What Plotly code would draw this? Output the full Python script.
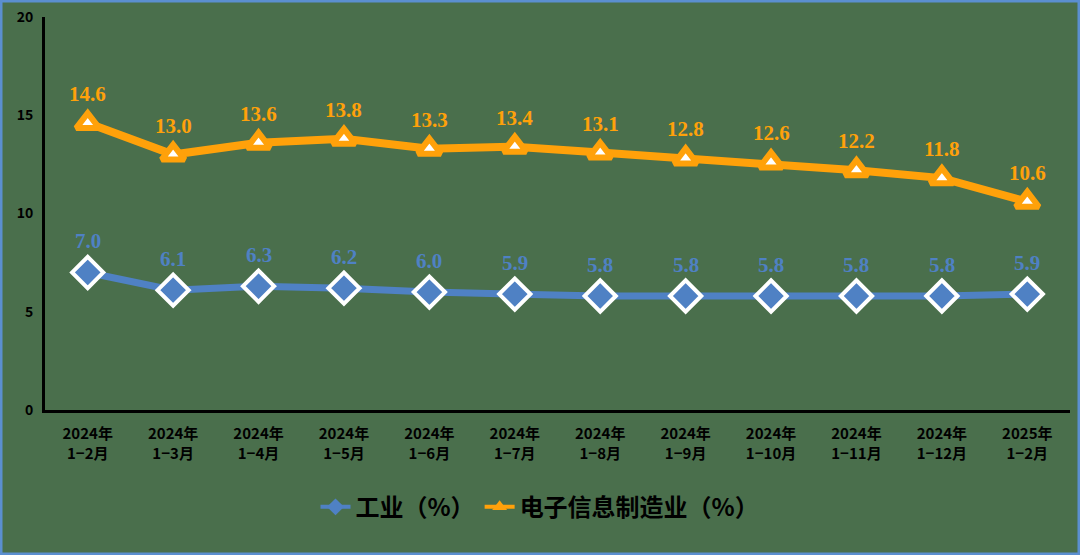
import plotly.graph_objects as go

categories = ["2024年<br>1−2月", "2024年<br>1−3月", "2024年<br>1−4月", "2024年<br>1−5月",
              "2024年<br>1−6月", "2024年<br>1−7月", "2024年<br>1−8月", "2024年<br>1−9月",
              "2024年<br>1−10月", "2024年<br>1−11月", "2024年<br>1−12月", "2025年<br>1−2月"]
industry = [7.0, 6.1, 6.3, 6.2, 6.0, 5.9, 5.8, 5.8, 5.8, 5.8, 5.8, 5.9]
electronics = [14.6, 13.0, 13.6, 13.8, 13.3, 13.4, 13.1, 12.8, 12.6, 12.2, 11.8, 10.6]

BLUE = "#4f81c4"
ORANGE = "#ffa10a"
BG = "#4a6f4c"

fig = go.Figure()
fig.add_trace(go.Scatter(
    x=categories, y=industry, name="工业（%）", mode="lines+markers",
    line=dict(color=BLUE, width=7), showlegend=False, legendgroup="a",
    marker=dict(symbol="diamond", size=24, color=BLUE, line=dict(color="white", width=4)),
))
fig.add_trace(go.Scatter(
    x=categories, y=electronics, name="电子信息制造业（%）", mode="lines+markers",
    line=dict(color=ORANGE, width=8), showlegend=False, legendgroup="b",
    marker=dict(symbol="triangle-up", size=20, color="white", line=dict(color=ORANGE, width=6)),
))
# legend entries (smaller symbols, as in the original)
fig.add_trace(go.Scatter(
    x=[None], y=[None], name="工业（%）", mode="lines+markers", legendgroup="a",
    line=dict(color=BLUE, width=4), marker=dict(symbol="diamond", size=13, color=BLUE),
))
fig.add_trace(go.Scatter(
    x=[None], y=[None], name="电子信息制造业（%）", mode="lines+markers", legendgroup="b",
    line=dict(color=ORANGE, width=4), marker=dict(symbol="triangle-up", size=13, color=ORANGE),
))

# data labels
for cat, v in zip(categories, industry):
    fig.add_annotation(x=cat, y=v, text=f"{v:.1f}", showarrow=False, yshift=31,
                       font=dict(family="Liberation Serif", size=21, color=BLUE, weight="bold"))
for cat, v in zip(categories, electronics):
    fig.add_annotation(x=cat, y=v, text=f"{v:.1f}", showarrow=False, yshift=29,
                       font=dict(family="Liberation Serif", size=21, color=ORANGE, weight="bold"))

fig.update_layout(
    width=1080, height=555,
    paper_bgcolor=BG, plot_bgcolor=BG,
    margin=dict(l=45, r=10, t=17, b=145, autoexpand=False),
    showlegend=True,
    legend=dict(orientation="h", xref="container", yref="container", x=0.5, y=0.086,
                xanchor="center", yanchor="middle", bgcolor="rgba(0,0,0,0)",
                font=dict(family="Noto Sans CJK SC", size=24, color="black", weight="bold"),
                itemwidth=30, tracegroupgap=0),
    shapes=[dict(type="rect", xref="paper", yref="paper",
                 x0=-44 / 1025, x1=1 + 9 / 1025, y0=-144 / 393, y1=1 + 16 / 393,
                 line=dict(color="#5b8fd0", width=3))],
)
fig.update_xaxes(
    range=[-0.5, 11.5], automargin=False, ticklabelstandoff=8,
    showline=True, linecolor="black", linewidth=3, showgrid=False, ticks="",
    tickfont=dict(family="Noto Sans CJK SC", size=15, color="black", weight="bold"),
)
fig.update_yaxes(
    range=[0, 20], dtick=5, automargin=False, showline=True, linecolor="black", linewidth=3,
    showgrid=False, zeroline=False, ticks="", ticklabelstandoff=6,
    tickfont=dict(family="Noto Sans CJK SC", size=14, color="black", weight="bold"),
)

fig.write_html("out.html", config={"displayModeBar": False},
               post_script="document.body.style.margin='0';")
